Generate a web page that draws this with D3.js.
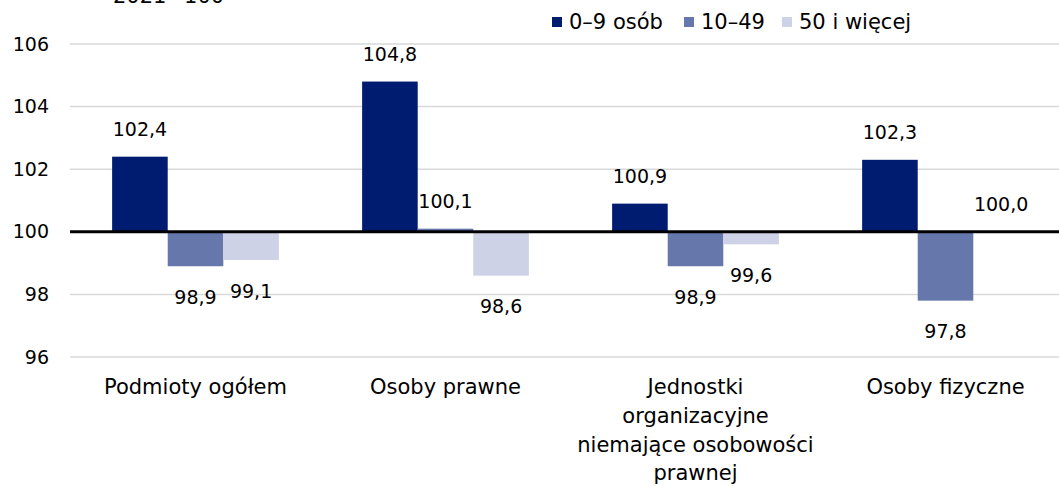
<!DOCTYPE html>
<html>
<head>
<meta charset="utf-8">
<script src="https://cdn.jsdelivr.net/npm/d3@7"></script>
<style>
  body { margin: 0; background: #fff; }
  text { font-family: "DejaVu Sans", sans-serif; fill: #000; }
</style>
</head>
<body>
<div id="chart"></div>
<script>
const categories = [
  ["Podmioty ogółem"],
  ["Osoby prawne"],
  ["Jednostki", "organizacyjne", "niemające osobowości", "prawnej"],
  ["Osoby fizyczne"],
];
const seriesNames = ["0–9 osób", "10–49", "50 i więcej"];
const small = [102.4, 104.8, 100.9, 102.3];
const medium = [98.9, 100.1, 98.9, 97.8];
const large = [99.1, 98.6, 99.6, 100.0];
const yTicks = [96, 98, 100, 102, 104, 106];
const colors = ["#001c71", "#6677ab", "#cdd2e6"];

const width = 1059, height = 486;
const fs = "19px";
const fsText = "21px";
const svg = d3.select("#chart").append("svg")
  .attr("width", width).attr("height", height);

const x = d3.scaleBand().domain(d3.range(categories.length))
  .range([70.5, 1070.5]).paddingInner(0.333).paddingOuter(0.1665);
const xs = d3.scaleBand().domain(d3.range(3)).range([0, x.bandwidth()]);
const y = d3.scaleLinear().domain([96, 106]).range([357, 44]);

// gridlines
svg.append("g").selectAll("line").data(yTicks.filter(t => t !== 100)).join("line")
  .attr("x1", 70).attr("x2", width)
  .attr("y1", d => y(d)).attr("y2", d => y(d))
  .attr("stroke", "#d9d9d9").attr("stroke-width", 1.5);

// y tick labels
svg.append("g").selectAll("text").data(yTicks).join("text")
  .attr("x", 49).attr("y", d => y(d)).attr("dy", "0.35em")
  .attr("text-anchor", "end").style("font-size", fs)
  .text(d => d);

const data = categories.flatMap((c, i) =>
  [small[i], medium[i], large[i]].map((v, s) => ({ i, s, v })));

svg.append("g").selectAll("rect").data(data).join("rect")
  .attr("x", d => x(d.i) + xs(d.s))
  .attr("width", xs.bandwidth())
  .attr("y", d => Math.min(y(d.v), y(100)))
  .attr("height", d => Math.abs(y(d.v) - y(100)))
  .attr("fill", d => colors[d.s]);

// zero line
svg.append("line").attr("x1", 70).attr("x2", width)
  .attr("y1", y(100)).attr("y2", y(100))
  .attr("stroke", "#000").attr("stroke-width", 3);

// value labels
svg.append("g").selectAll("text").data(data).join("text")
  .attr("x", d => x(d.i) + xs(d.s) + xs.bandwidth() / 2)
  .attr("y", d => d.v >= 100 ? y(d.v) - 27 : y(d.v) + 31)
  .attr("dy", "0.35em")
  .attr("text-anchor", "middle").style("font-size", fs)
  .text(d => d.v.toFixed(1).replace(".", ","));

// category labels
const cat = svg.append("g").selectAll("text").data(categories).join("text")
  .attr("text-anchor", "middle").style("font-size", fsText)
  .attr("transform", (d, i) => `translate(${x(i) + x.bandwidth() / 2},387)`);
cat.selectAll("tspan").data(d => d).join("tspan")
  .attr("x", 0).attr("y", (d, j) => j * 28.7).attr("dy", "0.35em")
  .text(d => d);

// legend
const legendX = [552, 684, 782];
const lg = svg.append("g").selectAll("g").data(seriesNames).join("g")
  .attr("transform", (d, i) => `translate(${legendX[i]},17)`);
lg.append("rect").attr("width", 10).attr("height", 10).attr("fill", (d, i) => colors[i]);
lg.append("text").attr("x", 17).attr("y", 5).attr("dy", "0.35em")
  .style("font-size", fsText).text(d => d);

// unit note, cut off at the top
svg.append("text").attr("x", 113).attr("y", 3)
  .style("font-size", fsText).text("2021=100");
</script>
</body>
</html>
